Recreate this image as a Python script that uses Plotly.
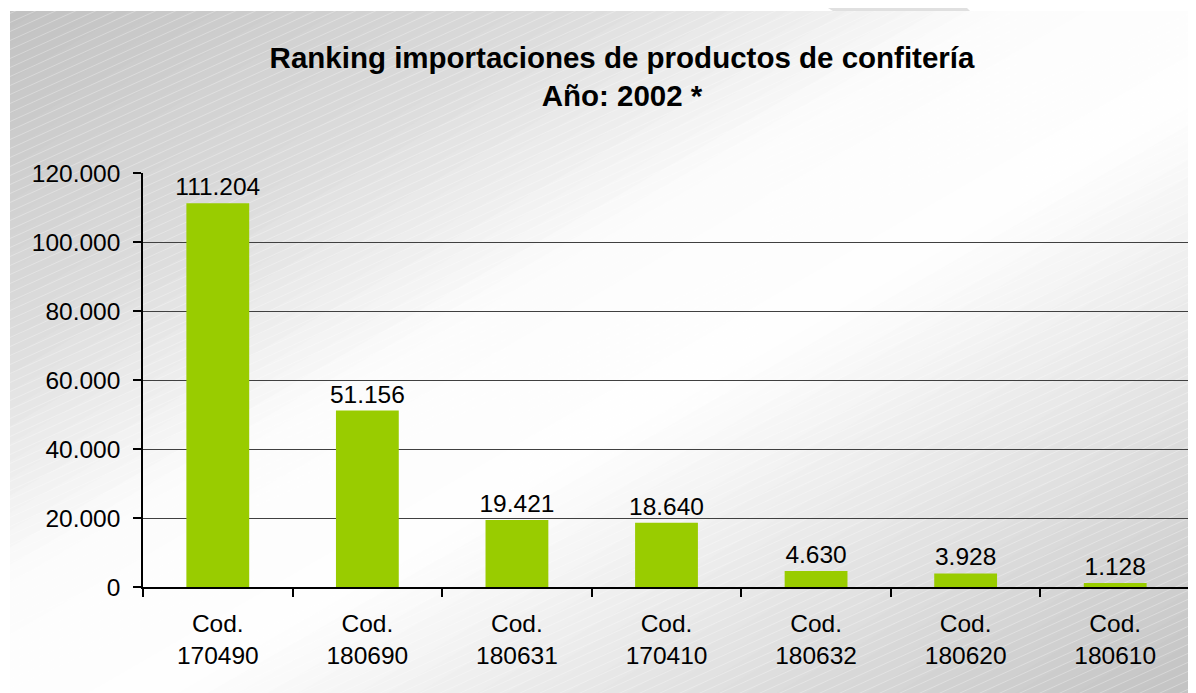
import numpy as np
import plotly.graph_objects as go

categories = ["Cod.<br>170490", "Cod.<br>180690", "Cod.<br>180631", "Cod.<br>170410",
              "Cod.<br>180632", "Cod.<br>180620", "Cod.<br>180610"]
values = [111204, 51156, 19421, 18640, 4630, 3928, 1128]
y_ticks = [0, 20000, 40000, 60000, 80000, 100000, 120000]

OFF = 8  # page body margin
W, H = 1196 - OFF, 693 - OFF
L, R, T, B = 143 - OFF, 1190 - OFF, 173 - OFF, 587 - OFF


def px(x):
    # x in page pixels
    return (x - OFF - L) / (R - L)


def py(y):
    return (B - (y - OFF)) / (B - T)


PW, PH = 1196, 693
shapes = []
stops_s = [0.0, 0.5, 0.85, 1.15, 1.5, 2.0]
stops_v = [192, 220, 252, 254, 230, 194]
n = 80
edges = np.linspace(0, 2, n + 1)
for i in range(n):
    s0, s1 = edges[i], edges[i + 1]
    v = int(round(np.interp((s0 + s1) / 2, stops_s, stops_v)))
    col = f"rgb({v},{v},{v})"
    path = (f"M{px(s0*PW - 1)},{py(0)} L{px(s1*PW + 1)},{py(0)} "
            f"L{px(0)},{py(s1*PH + 1)} L{px(0)},{py(s0*PH - 1)} Z")
    shapes.append(dict(type="path", xref="paper", yref="paper", path=path,
                       fillcolor=col, line=dict(width=0), layer="below"))
segs = []
slope = 0.45
for y0 in np.arange(0, PH + slope * PW + 10, 9):
    segs.append(f"M{px(0)},{py(y0)} L{px(PW)},{py(y0 - slope*PW)}")
shapes.append(dict(type="path", xref="paper", yref="paper", path=" ".join(segs),
                   line=dict(color="rgba(255,255,255,0.3)", width=1), layer="below"))
shapes.append(dict(type="rect", xref="paper", yref="paper", x0=px(-5), x1=px(PW + 5),
                   y0=py(11), y1=py(-5), fillcolor="white", line=dict(width=0), layer="below"))
shapes.append(dict(type="rect", xref="paper", yref="paper", x0=px(-5), x1=px(10),
                   y0=py(PH + 5), y1=py(-5), fillcolor="white", line=dict(width=0), layer="below"))
shapes.append(dict(type="path", xref="paper", yref="paper",
                   path=f"M{px(828)},{py(OFF)} L{px(967)},{py(OFF)} L{px(970)},{py(11)} L{px(833)},{py(11)} Z",
                   fillcolor="rgb(224,224,224)", line=dict(width=0), layer="below"))

FONT = "Liberation Sans, Arial, sans-serif"
fig = go.Figure()
fig.add_trace(go.Bar(
    x=categories, y=values,
    marker=dict(color="#99CC00", line=dict(width=0)),
    texttemplate="%{y:,d}", textposition="outside", constraintext="none",
    textfont=dict(family=FONT, size=24.5, color="black"),
    cliponaxis=False,
))

fig.update_layout(
    width=W, height=H,
    margin=dict(l=L, r=W - R, t=T, b=H - B),
    paper_bgcolor="white", plot_bgcolor="rgba(0,0,0,0)",
    separators=",.",
    bargap=0.58,
    showlegend=False,
    shapes=shapes,
    font=dict(family=FONT, size=24.5, color="black"),
    title=dict(
        text="<b>Ranking importaciones de productos de confitería</b><br><b>Año: 2002 *</b>",
        x=(622 - OFF) / W, xanchor="center", xref="container",
        y=1 - (68 - OFF) / H, yanchor="middle",
        font=dict(family=FONT, size=29.5, color="black"),
    ),
    xaxis=dict(
        type="category", showline=True, linecolor="black", linewidth=1.5,
        ticks="outside", tickson="boundaries", ticklen=8, tickcolor="black", tickwidth=1.5,
        showgrid=False, ticklabelstandoff=14,
    ),
    yaxis=dict(
        range=[0, 120000], tickvals=y_ticks, tickformat=",d",
        showline=True, linecolor="black", linewidth=1.5,
        ticks="outside", ticklen=8, tickcolor="black", tickwidth=1.5,
        showgrid=True, gridcolor="#404040", gridwidth=1.4,
        zeroline=False, ticklabelstandoff=8,
    ),
)

fig.write_html("out.html")
